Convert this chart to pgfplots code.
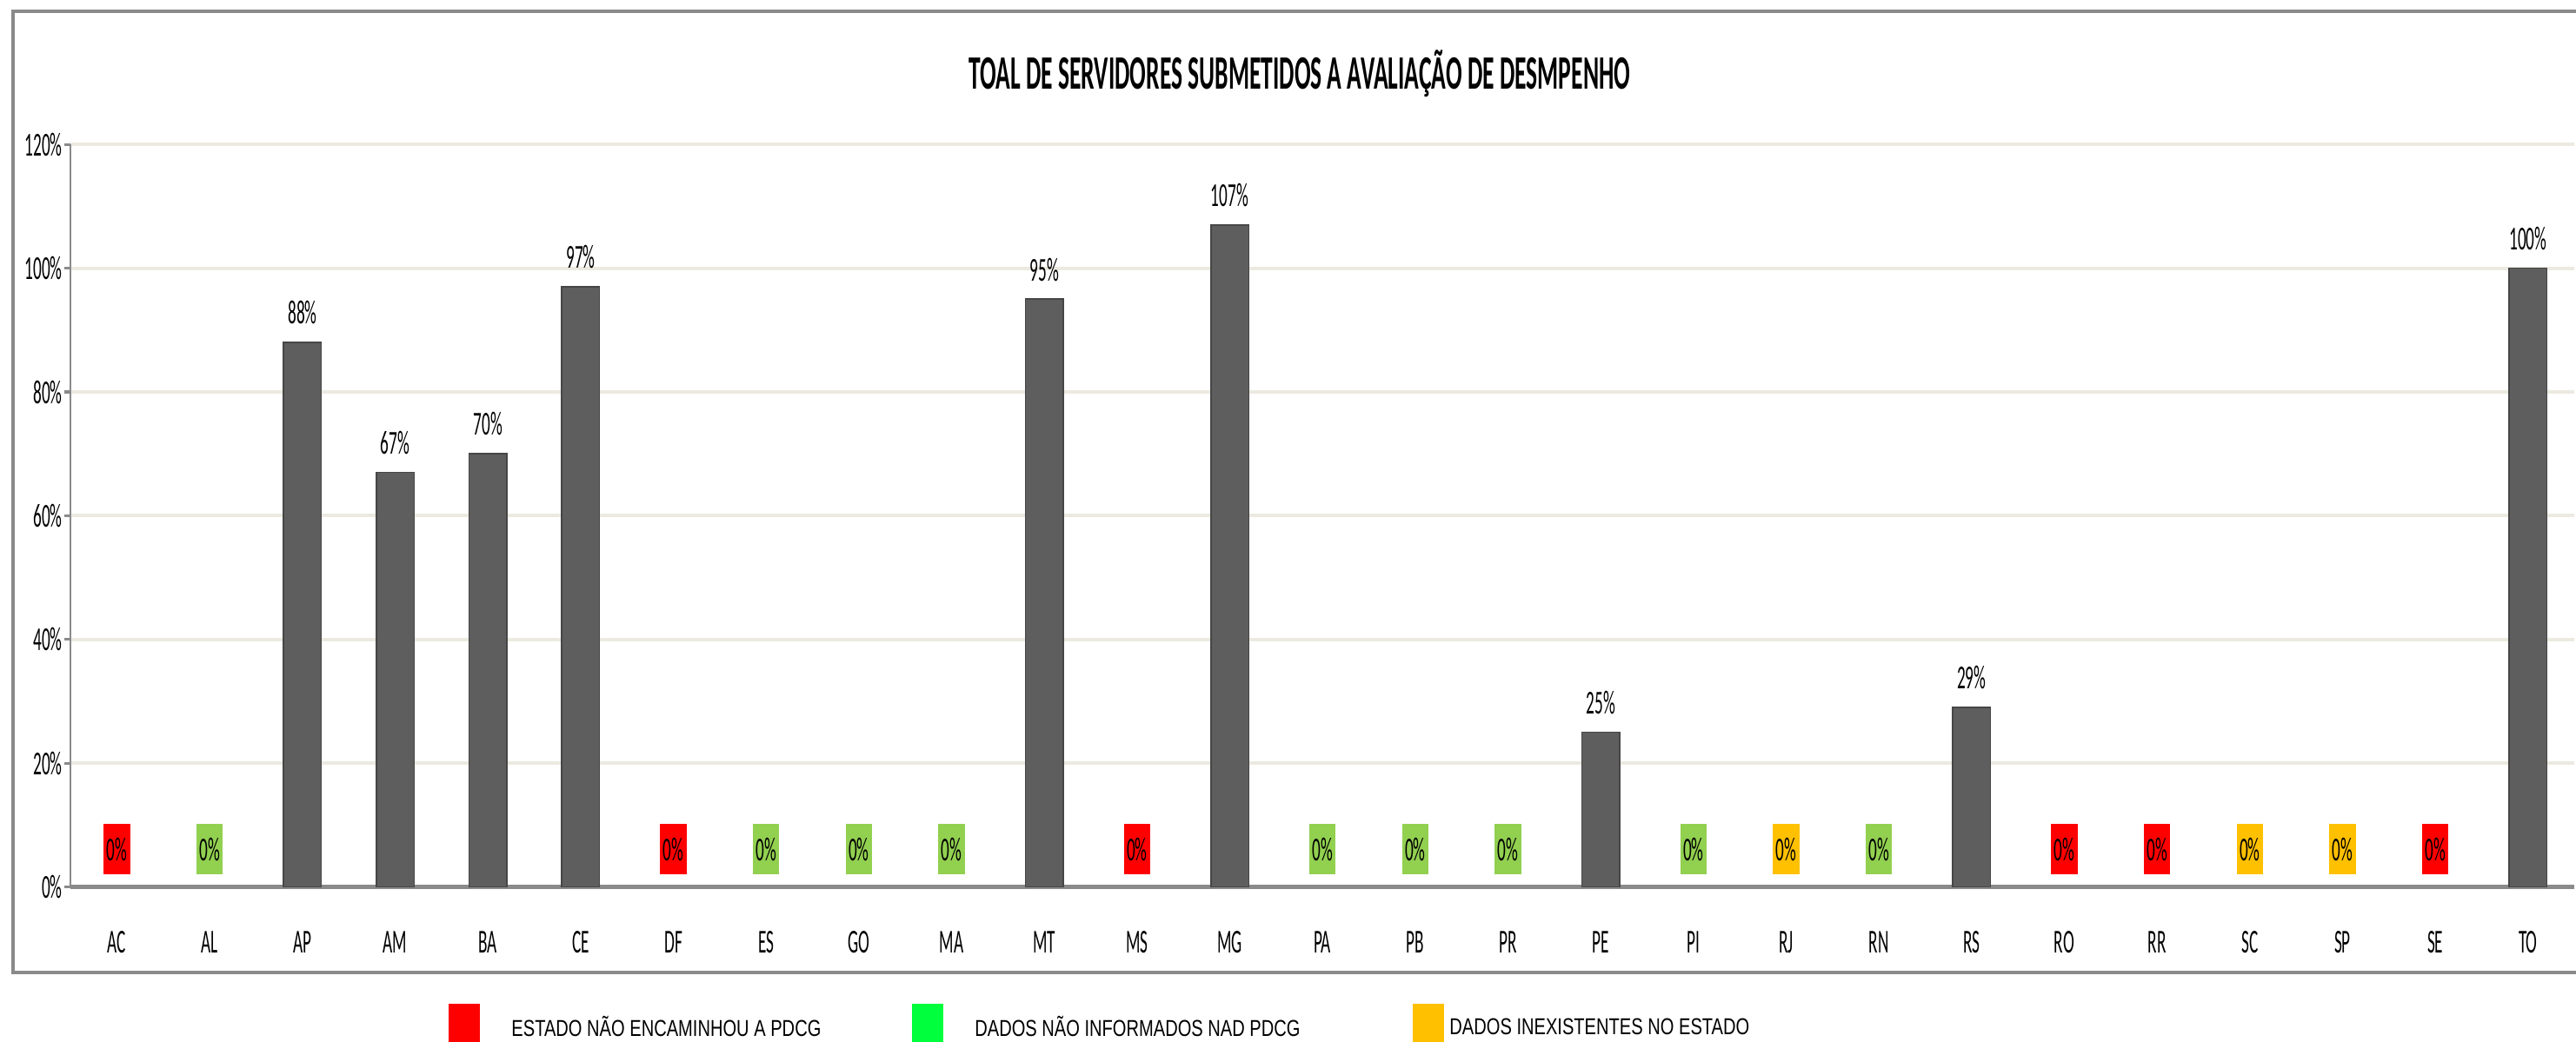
\documentclass[border=0pt]{standalone}
\usepackage{fontspec}
\setmainfont{Carlito}[FakeStretch=0.5]
\newfontfamily\legfont{Liberation Sans}[FakeStretch=0.76]
\usepackage{pgfplots}
\pgfplotsset{compat=1.18}

\definecolor{barc}{HTML}{5E5E5E}
\definecolor{gridc}{HTML}{ECEAE0}
\definecolor{axisc}{HTML}{8A8A8A}
\definecolor{boxred}{HTML}{FF0000}
\definecolor{boxgreen}{HTML}{92D050}
\definecolor{boxorange}{HTML}{FFC000}
\definecolor{leggreen}{HTML}{00FF3C}

\begin{document}
\begin{tikzpicture}
\useasboundingbox (-21.5pt,-47pt) rectangle (762.5pt,270pt);
\begin{axis}[
  at={(0,0)}, anchor=south west,
  scale only axis, width=762pt, height=226pt,
  xmin=-0.5, xmax=26.5, ymin=0, ymax=120,
  xtick={0,...,26},
  xticklabels={AC,AL,AP,AM,BA,CE,DF,ES,GO,MA,MT,MS,MG,PA,PB,PR,PE,PI,RJ,RN,RS,RO,RR,SC,SP,SE,TO},
  ytick={0,20,...,120},
  yticklabel={\pgfmathprintnumber{\tick}\%},
  /pgf/number format/assume math mode=true,
  ymajorgrids, grid style={color=gridc, line width=1pt},
  axis x line*=bottom, axis y line*=left,
  x axis line style={draw=axisc, line width=1.2pt, -},
  y axis line style={draw=axisc, line width=0.5pt, -},
  tick align=outside, major tick length=2pt,
  xtick style={draw=none},
  ytick style={draw=axisc, line width=0.8pt},
  ticklabel style={font=\fontsize{10.2}{12}\selectfont},
  xticklabel style={yshift=-8pt},
  yticklabel style={xshift=3pt},
  clip=false,
  nodes near coords={\pgfmathprintnumber{\pgfplotspointmeta}\%},
  every node near coord/.append style={font=\fontsize{10.2}{12}\selectfont},
  zerobox/.style={draw=none, mark=none,
    every node near coord/.append style={fill=#1, anchor=south, yshift=3.5pt,
      minimum width=8pt, minimum height=15.5pt, inner sep=0pt, text=black}},
]
% states with data
\addplot[ybar, bar width=11.5pt, fill=barc, draw=barc!75!black,
  every node near coord/.append style={yshift=2pt}] coordinates {
  (2,88) (3,67) (4,70) (5,97) (10,95) (12,107) (16,25) (20,29) (26,100)
};
% estado nao encaminhou
\addplot[zerobox=boxred] coordinates {
  (0,0) (6,0) (11,0) (21,0) (22,0) (25,0)
};
% dados nao informados
\addplot[zerobox=boxgreen] coordinates {
  (1,0) (7,0) (8,0) (9,0) (13,0) (14,0) (15,0) (17,0) (19,0)
};
% dados inexistentes
\addplot[zerobox=boxorange] coordinates {
  (18,0) (23,0) (24,0)
};
\end{axis}

% frame
\draw[axisc, line width=1pt] (770pt,266.5pt) -- (-17.5pt,266.5pt) -- (-17.5pt,-26pt) -- (770pt,-26pt);
% title
\node at (374pt,247.5pt) {\fontsize{14.6}{17}\selectfont\bfseries TOAL DE SERVIDORES SUBMETIDOS A AVALIAÇÃO DE DESMPENHO};
% legend
\fill[boxred] (115pt,-35.5pt) rectangle (124.5pt,-50pt);
\fill[leggreen] (256pt,-35.5pt) rectangle (265.5pt,-50pt);
\fill[boxorange] (408.5pt,-35.5pt) rectangle (418pt,-50pt);
\node[anchor=west, inner sep=0pt] at (134pt,-42.5pt) {\legfont\fontsize{7}{8}\selectfont ESTADO NÃO ENCAMINHOU A PDCG};
\node[anchor=west, inner sep=0pt] at (275pt,-42.5pt) {\legfont\fontsize{7}{8}\selectfont DADOS NÃO INFORMADOS NAD PDCG};
\node[anchor=west, inner sep=0pt] at (419.5pt,-42.5pt) {\legfont\fontsize{7}{8}\selectfont DADOS INEXISTENTES NO ESTADO};
\end{tikzpicture}
\end{document}
